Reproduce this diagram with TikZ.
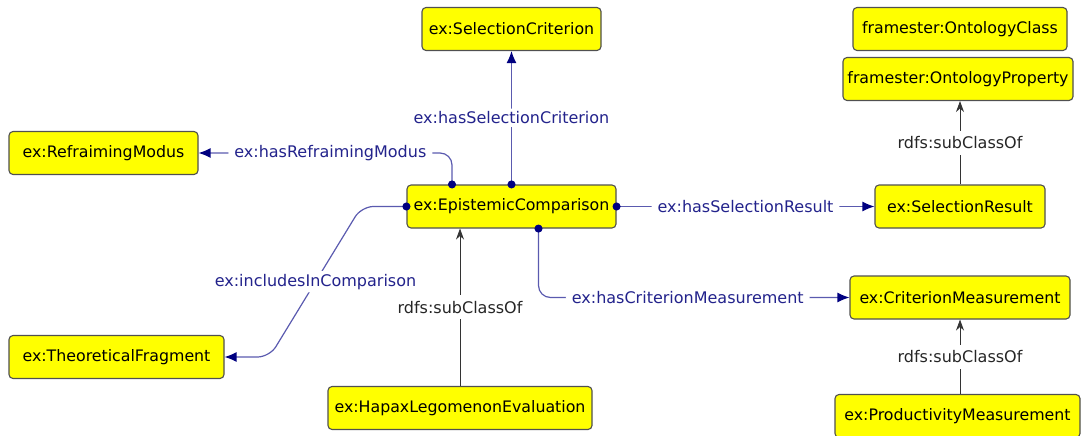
\documentclass[tikz,border=0pt]{standalone}
\usepackage{fontspec}
\setmainfont{DejaVu Sans}
\usetikzlibrary{arrows.meta}
\definecolor{boxfill}{RGB}{255,255,0}
\definecolor{boxline}{RGB}{80,80,80}
\definecolor{propline}{RGB}{90,90,175}
\definecolor{proptip}{RGB}{0,0,128}
\definecolor{proptext}{RGB}{35,35,140}
\tikzset{
  cls/.style={draw=boxline, fill=boxfill, rounded corners=4pt, line width=1.1pt,
    minimum height=43pt, inner xsep=3pt, font=\fontsize{15.8}{19}\selectfont},
  prop/.style={draw=propline, line width=1.2pt, rounded corners=12pt, shorten <=-4pt,
    {Circle[length=8pt,color=proptip,fill=proptip]}-{Latex[length=12pt,width=10pt,color=proptip,fill=proptip]}},
  sub/.style={draw=black!80, line width=0.8pt, -{Stealth[length=11pt,width=8pt]}},
  proplbl/.style={fill=white, text=proptext, inner xsep=6pt, inner ysep=3pt, font=\fontsize{16}{19}\selectfont},
  sublbl/.style={fill=white, text=black!85, inner xsep=4pt, inner ysep=6pt, font=\fontsize{16}{19}\selectfont}
}
\begin{document}
\begin{tikzpicture}[x=1pt, y=-1pt]
\useasboundingbox (0,0) rectangle (1081,436);
% classes
\node[cls, minimum width=179pt] (selCrit) at (511.5,29) {ex:SelectionCriterion};
\node[cls, minimum width=214pt] (ontClass) at (960,29) {framester:OntologyClass};
\node[cls, minimum width=230pt] (ontProp) at (958,79) {framester:OntologyProperty};
\node[cls, minimum width=189pt] (refMod) at (103.5,153) {ex:RefraimingModus};
\node[cls, minimum width=209pt] (epiComp) at (511.5,206.5) {ex:EpistemicComparison};
\node[cls, minimum width=170pt] (selRes) at (960,206.5) {ex:SelectionResult};
\node[cls, minimum width=220pt] (critMeas) at (960,297.5) {ex:CriterionMeasurement};
\node[cls, minimum width=215pt] (theoFrag) at (116.5,357) {ex:TheoreticalFragment};
\node[cls, minimum width=264pt] (hapax) at (460,408) {ex:HapaxLegomenonEvaluation};
\node[cls, minimum width=245pt] (prodMeas) at (957.5,416) {ex:ProductivityMeasurement};
% object properties
\draw[prop] (epiComp.north) -- node[proplbl] {ex:hasSelectionCriterion} (selCrit.south);
\draw[prop] ([xshift=-59.5pt]epiComp.north) |- node[proplbl, pos=0.74] {ex:hasRefraimingModus} (refMod.east);
\draw[prop] (epiComp.west) -- ([xshift=-45pt]epiComp.west)
  -- node[proplbl] {ex:includesInComparison} ([xshift=45pt]theoFrag.east) -- (theoFrag.east);
\draw[prop] (epiComp.east) -- node[proplbl] {ex:hasSelectionResult} (selRes.west);
\draw[prop] ([xshift=27pt]epiComp.south) |- node[proplbl, pos=0.74] {ex:hasCriterionMeasurement} (critMeas.west);
% subclass links
\draw[sub] (hapax.north) -- node[sublbl] {rdfs:subClassOf} (hapax.north |- epiComp.south);
\draw[sub] (selRes.north) -- node[sublbl] {rdfs:subClassOf} (selRes.north |- ontProp.south);
\draw[sub] (critMeas.south |- prodMeas.north) -- node[sublbl] {rdfs:subClassOf} (critMeas.south);
\end{tikzpicture}
\end{document}
